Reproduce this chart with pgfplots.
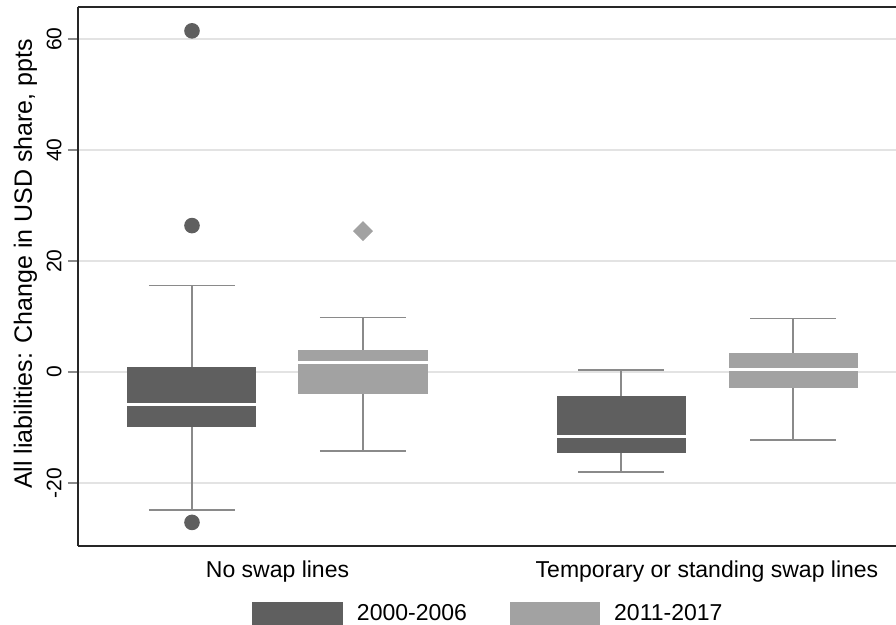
\documentclass[border=0pt]{standalone}
\usepackage{fontspec}
\setmainfont{Liberation Sans}
\usepackage{pgfplots}
\pgfplotsset{compat=1.18}
\usepgfplotslibrary{statistics}

\definecolor{darkbox}{HTML}{5F5F5F}
\definecolor{lightbox}{HTML}{A2A2A2}
\definecolor{whisk}{HTML}{8A8A8A}
\definecolor{gridc}{HTML}{E3E3E3}

\pgfplotsset{
  swapbox/.style={
    draw=whisk, line width=0.8pt,
    boxplot/every box/.style={draw=none, fill=#1},
    boxplot/every median/.style={draw=white, line width=1.5pt},
    boxplot/every whisker/.style={draw=whisk, line width=0.8pt},
    legend image code/.code={\fill[#1] (0pt,-5.25pt) rectangle (44.5pt,5.25pt);},
  },
}

\begin{document}
\begin{tikzpicture}
\path[use as bounding box] (-39pt,-39.5pt) rectangle (409pt,273pt);
\begin{axis}[
  at={(0,0)}, anchor=south west,
  scale only axis, width=409pt, height=269.5pt,
  xmin=0, xmax=8.18, ymin=-31.35, ymax=65.8,
  axis x line=box, axis y line=left,
  axis line style={-, line width=1pt, draw=black!85},
  xtick={1.995,6.29},
  xticklabels={No swap lines, Temporary or standing swap lines},
  xtick style={draw=none},
  ytick={-20,0,20,40,60},
  ytick style={draw=whisk, line width=0.8pt},
  tick align=outside, major tick length=5pt,
  ymajorgrids, grid style={draw=gridc, line width=1pt},
  /pgf/number format/assume math mode=true,
  xticklabel style={font=\fontsize{11.5}{13}\selectfont, inner sep=0pt, anchor=north, yshift=-2.3pt},
  yticklabel style={font=\fontsize{10.5}{12}\selectfont, inner sep=0pt, xshift=-3pt, rotate=90, anchor=south},
  ylabel={All liabilities: Change in USD share, ppts},
  every axis y label/.style={at={(axis description cs:-0.0642,0.5232)}, rotate=90, anchor=center,
    font=\fontsize{12.5}{14}\selectfont},
  legend columns=2,
  legend style={at={(0.2127,-0.1252)}, anchor=west, draw=none, fill=none, inner sep=0pt,
    font=\fontsize{11.5}{13}\selectfont, nodes={inner sep=0pt},
    /tikz/every odd column/.style={column sep=7pt},
    /tikz/every even column/.style={column sep=21.3pt}},
  boxplot/draw direction=y,
  boxplot/box extend=1.29, boxplot/whisker extend=0.86,
]
% No swap lines, 2000-2006
\addplot[swapbox=darkbox, mark=*, mark size=3.5pt, mark options={fill=darkbox, draw=darkbox},
  boxplot prepared={draw position=1.14, median=-5.77, upper quartile=0.96,
    lower quartile=-9.97, upper whisker=15.6, lower whisker=-24.9}]
  table[row sep=\\, y index=0] {61.5\\ 26.4\\ -27.1\\};
\addlegendentry{2000-2006}
% No swap lines, 2011-2017
\addplot[swapbox=lightbox, mark=square*, mark size=3.1pt,
  mark options={fill=lightbox, draw=lightbox, rotate=45},
  boxplot prepared={draw position=2.85, median=1.68, upper quartile=3.96,
    lower quartile=-3.9, upper whisker=9.85, lower whisker=-14.2}]
  table[row sep=\\, y index=0] {25.4\\};
\addlegendentry{2011-2017}
% Temporary or standing swap lines, 2000-2006
\addplot[swapbox=darkbox, forget plot,
  boxplot prepared={draw position=5.43, median=-11.65, upper quartile=-4.3,
    lower quartile=-14.65, upper whisker=0.42, lower whisker=-18.0}]
  coordinates {};
% Temporary or standing swap lines, 2011-2017
\addplot[swapbox=lightbox, forget plot,
  boxplot prepared={draw position=7.15, median=0.54, upper quartile=3.48,
    lower quartile=-2.82, upper whisker=9.67, lower whisker=-12.25}]
  coordinates {};
\end{axis}
\end{tikzpicture}
\end{document}
